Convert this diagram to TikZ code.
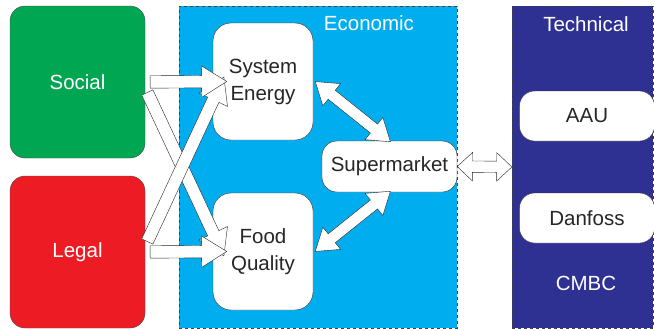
\documentclass[tikz,border=0pt]{standalone}
\usepackage{fontspec}
\setmainfont{Liberation Sans}
\usetikzlibrary{calc}
\usetikzlibrary{shapes.arrows}
\usetikzlibrary{positioning}

\definecolor{socialgreen}{HTML}{00A651}
\definecolor{legalred}{HTML}{ED1C24}
\definecolor{econblue}{HTML}{00AEEF}
\definecolor{techblue}{HTML}{2E3192}

\newcommand{\blockarrow}[3][blockarr]{%
  \path let \p1=(#2), \p2=(#3),
        \n1={atan2(\y2-\y1,\x2-\x1)}, \n2={veclen(\x2-\x1,\y2-\y1)} in
    node[#1, minimum height=\n2, rotate=\n1] at ($(\p1)!0.5!(\p2)$) {};}

\begin{document}
\begin{tikzpicture}[x=1pt, y=-1pt,
    every node/.style={font=\fontsize{20.5}{27}\selectfont},
    group/.style={draw=black!70, rounded corners=15, minimum width=135, minimum height=152, text=white},
    panel/.style={draw=black!75, dashed, very thin, minimum width=#1, minimum height=322},
    whitebox/.style={draw=black!80, fill=white, rounded corners=#1, align=center, text=black!85},
    tag/.style={text=white},
    blockarr/.style={single arrow, draw=black!85, fill=white, thin, inner xsep=0, inner ysep=6,
        single arrow head extend=9.5, single arrow tip angle=64, single arrow head indent=0},
    dblarr/.style={double arrow, draw=black!85, fill=white, thin, inner xsep=0, inner ysep=5.5,
        double arrow head extend=8.5, double arrow tip angle=#1, double arrow head indent=0}]
  \useasboundingbox (0,0) rectangle (654,330);

  \node[group, fill=socialgreen] (social) at (77.5,82) {Social};
  \node[group, fill=legalred] (legal) at (77.5,252) {Legal};

  \node[panel=278, fill=econblue] (econ) at (318,167) {};
  \node[tag] (econlabel) at (369,23) {Economic};
  \node[whitebox=18, minimum width=100, minimum height=117] (energy) at (263,81.5) {System\\Energy};
  \node[whitebox=18, minimum width=100, minimum height=117] (food) at (263,251.5) {Food\\Quality};
  \node[whitebox=15, minimum width=135, minimum height=51] (market) at (389.5,166.5) {Supermarket};

  \node[panel=141, fill=techblue] (tech) at (582.5,167) {};
  \node[tag] (techlabel) at (586,24) {Technical};
  \node[whitebox=15, minimum width=135, minimum height=50] (aau) at (587,116) {AAU};
  \node[whitebox=15, minimum width=135, minimum height=50] (danfoss) at (587,218) {Danfoss};
  \node[tag] (cmbc) at (586,283) {CMBC};

  \blockarrow{$(social.east)+(0,6)$}{$(food.west)+(9,0)$}
  \blockarrow{$(legal.east)+(0,-6)$}{$(energy.west)+(9,0)$}
  \blockarrow{social.east}{$(energy.west)+(9,0)$}
  \blockarrow{legal.east}{$(food.west)+(9,0)$}

  \blockarrow[dblarr=68]{$(energy.east)+(2,0)$}{$(market.north)+(1,1)$}
  \blockarrow[dblarr=68]{$(food.east)+(2,0)$}{$(market.south)+(1,-1)$}
  \blockarrow[dblarr=86]{market.east}{tech.west}
\end{tikzpicture}
\end{document}
